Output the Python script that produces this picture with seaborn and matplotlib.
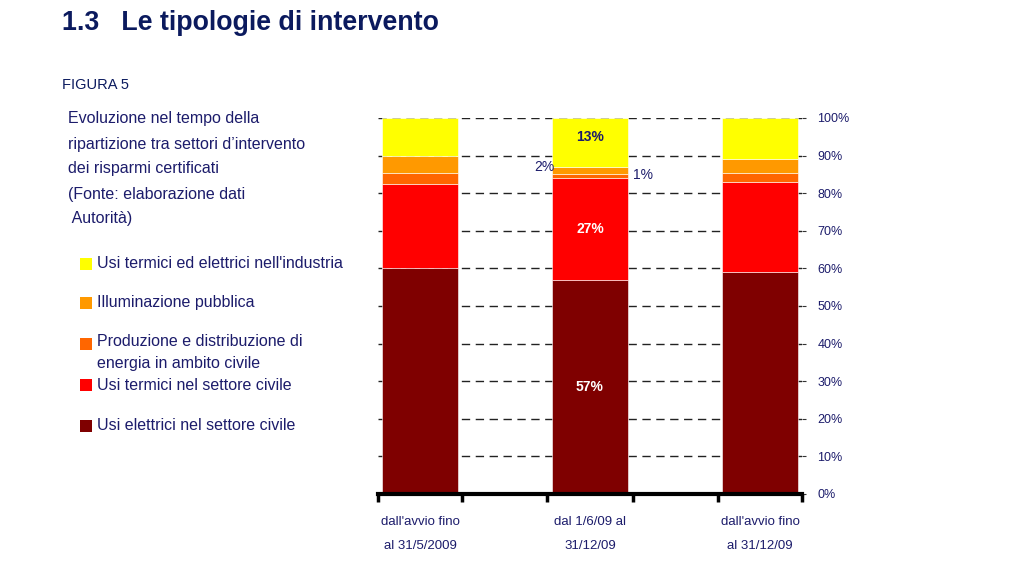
import matplotlib
matplotlib.use("Agg")
import matplotlib.pyplot as plt
import seaborn as sns
import pandas as pd
import numpy as np

sns.set_theme(style="white")
plt.rcParams['font.family'] = ['Liberation Sans', 'DejaVu Sans']

periods = ["dall'avvio fino\nal 31/5/2009", "dal 1/6/09 al\n31/12/09", "dall'avvio fino\nal 31/12/09"]
sectors = ["Usi elettrici nel settore civile", "Usi termici nel settore civile",
           "Produzione e distribuzione di\nenergia in ambito civile", "Illuminazione pubblica",
           "Usi termici ed elettrici nell'industria"]
elettrici_civile = [60, 57, 59]
termici_civile = [22.5, 27, 24]
produzione = [3, 1, 2.3]
illuminazione = [4.5, 2, 3.7]
industria = [10, 13, 11]
colors = ["#7F0000", "#FF0000", "#FF6600", "#FF9900", "#FFFF00"]
yticks = list(range(0, 101, 10))
navy = "#1C1C6B"

series = [elettrici_civile, termici_civile, produzione, illuminazione, industria]
df = pd.DataFrame({"period": np.repeat(periods, len(sectors)),
                   "sector": sectors * len(periods),
                   "value": [series[s][p] for p in range(len(periods)) for s in range(len(sectors))]})

fig = plt.figure(figsize=(10.24, 5.63), dpi=100)
ax = fig.add_axes([378/1024, 1-494/563, (802-378)/1024, (494-118)/563])

for y in yticks[1:]:
    ax.axhline(y, color="#222222", lw=1.0, ls=(0, (6, 4)), zorder=0)

bottom = np.zeros(len(periods))
for s, name in enumerate(sectors):
    sub = df[df["sector"] == name]
    sns.barplot(data=sub, x="period", y="value", ax=ax, color=colors[s], bottom=bottom,
                width=0.447, edgecolor="white", linewidth=0.4, saturation=1, order=periods, zorder=2)
    bottom = bottom + sub["value"].to_numpy()

ax.set_xlim(-0.247, 2.247)
ax.set_ylim(0, 100)
ax.set_xlabel("")
ax.set_ylabel("")

ax.yaxis.tick_right()
ax.set_yticks(yticks)
ax.set_yticklabels([f"{v}%" for v in yticks], color=navy, fontsize=9)
ax.tick_params(axis="y", right=True, length=3, width=0.8, color="#333333", pad=8)
ax.tick_params(axis="x", bottom=False, length=0, pad=16)
for lbl in ax.get_xticklabels():
    lbl.set_color(navy); lbl.set_fontsize(9.5); lbl.set_linespacing(2.3)
ax.set_xticks([-0.247, 0.25, 0.75, 1.25, 1.75, 2.247], minor=True)
ax.tick_params(axis="x", which="minor", bottom=True, length=6, width=2.5, color="black", direction="out")

for sp in ["top", "right", "left"]:
    ax.spines[sp].set_visible(False)
ax.spines["bottom"].set_linewidth(3)
ax.spines["bottom"].set_color("black")
ax.spines["bottom"].set_zorder(5)

# bar value labels (middle bar)
cum = np.cumsum([s[1] for s in series])
narrow = ['Liberation Sans Narrow', 'Liberation Sans', 'DejaVu Sans']
ax.text(1, elettrici_civile[1] / 2, f"{elettrici_civile[1]:.0f}%", ha="center", va="center", color="white",
        fontsize=10, fontweight="bold", family=narrow, zorder=4)
ax.text(1, cum[0] + termici_civile[1] / 2, f"{termici_civile[1]:.0f}%", ha="center", va="center", color="white",
        fontsize=10, fontweight="bold", family=narrow, zorder=4)
ax.text(1, cum[3] + industria[1] / 2 + 1.5, f"{industria[1]:.0f}%", ha="center", va="center", color=navy,
        fontsize=10, fontweight="bold", family=narrow, zorder=4)
ax.text(0.73, cum[2] + illuminazione[1] / 2 + 1, f"{illuminazione[1]:.0f}%", ha="center", va="center", color=navy,
        fontsize=10, zorder=4)
ax.text(1.31, cum[1] + 0.8, f"{produzione[1]:.0f}%", ha="center", va="center", color=navy,
        fontsize=10, zorder=4)

# titles and notes
fig.text(62/1024, 1-23/563, "1.3   Le tipologie di intervento", fontsize=19.3, fontweight="bold",
         color="#0B1A5E", va="center")
fig.text(62/1024, 1-85/563, "FIGURA 5", fontsize=10.5, color="#0B1A5E", va="center")
desc = ["Evoluzione nel tempo della", "ripartizione tra settori d’intervento", "dei risparmi certificati",
        "(Fonte: elaborazione dati", " Autorità)"]
for i, line in enumerate(desc):
    fig.text(68/1024, 1-(119 + i * 25)/563, line, fontsize=11.5, color=navy, va="center")

legend_y = [264, 303, 344, 385, 426]
for s_idx, yy in zip([4, 3, 2, 1, 0], legend_y):
    fig.patches.append(plt.Rectangle((80/1024, 1-(yy + 6)/563), 12/1024, 12/563, transform=fig.transFigure,
                                     facecolor=colors[s_idx], edgecolor="none"))
    if "\n" in sectors[s_idx]:
        fig.text(97/1024, 1-(yy - 10)/563, sectors[s_idx], fontsize=11.5, color=navy, va="top",
                 linespacing=1.55)
    else:
        fig.text(97/1024, 1-yy/563, sectors[s_idx], fontsize=11.5, color=navy, va="center")

fig.savefig("out.png", dpi=100)
